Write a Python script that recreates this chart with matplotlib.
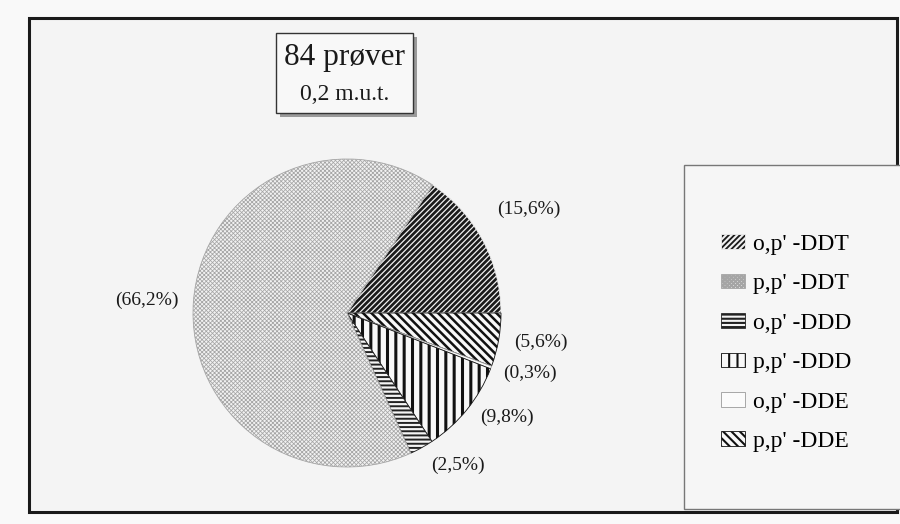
import matplotlib
matplotlib.use("Agg")
import matplotlib.pyplot as plt
from matplotlib.patches import Rectangle
import numpy as np

plt.rcParams['font.family'] = ['Liberation Serif', 'DejaVu Serif']
plt.rcParams['hatch.linewidth'] = 1.5

# Fractions of the DDT compounds in the samples (percent), clockwise from top right
compounds = ["o,p' -DDT", "p,p' -DDE", "o,p' -DDE", "p,p' -DDD", "o,p' -DDD", "p,p' -DDT"]
shares = [15.6, 5.6, 0.3, 9.8, 2.5, 66.2]
legend_order = ["o,p' -DDT", "p,p' -DDT", "o,p' -DDD", "p,p' -DDD", "o,p' -DDE", "p,p' -DDE"]
title_main = "84 prøver"
title_sub = "0,2 m.u.t."

# Fill style for each compound: face, hatch, hatch colour, hatch width
styles = {
    "o,p' -DDT": dict(face='#1a1a1a', hatch='//////', ec='#f0f0f0', hlw=0.9),
    "p,p' -DDE": dict(face='#f8f8f8', hatch='\\\\\\\\', ec='#111111', hlw=1.8),
    "o,p' -DDE": dict(face='#fbfbfb', hatch='', ec='#9a9a9a', hlw=1.0),
    "p,p' -DDD": dict(face='#f8f8f8', hatch='||', ec='#111111', hlw=2.2),
    "o,p' -DDD": dict(face='#f4f4f4', hatch='----', ec='#222222', hlw=1.4),
    "p,p' -DDT": dict(face='#f2f2f2', hatch='xxxxxxxx', ec='#a5a5a5', hlw=0.55),
}

W, H = 900, 524
fig = plt.figure(figsize=(W / 100, H / 100), dpi=100)
fig.patch.set_facecolor('#f9f9f9')

def px(x0, y0, x1, y1):
    """Figure-fraction rectangle from pixel corners (top-left origin)."""
    return [x0 / W, 1 - y1 / H, (x1 - x0) / W, (y1 - y0) / H]

# Outer chart frame
frame = Rectangle((29 / W, 1 - 512 / H), (897 - 29) / W, (512 - 18) / H,
                  transform=fig.transFigure, facecolor='#f4f4f4',
                  edgecolor='#1a1a1a', linewidth=2.2, zorder=0)
fig.add_artist(frame)

# Legend panel
fig.add_artist(Rectangle((684 / W, 1 - 509 / H), (905 - 684) / W, (509 - 165) / H,
                         transform=fig.transFigure, facecolor='#f6f6f6',
                         edgecolor='#777777', linewidth=1.0, zorder=1))

# Title box with drop shadow
bx0, by0, bx1, by1 = 276, 33, 413, 113
fig.add_artist(Rectangle(((bx0 + 4) / W, 1 - (by1 + 4) / H), (bx1 - bx0) / W, (by1 - by0) / H,
                         transform=fig.transFigure, facecolor='#9a9a9a',
                         edgecolor='none', zorder=2))
fig.add_artist(Rectangle((bx0 / W, 1 - by1 / H), (bx1 - bx0) / W, (by1 - by0) / H,
                         transform=fig.transFigure, facecolor='#f8f8f8',
                         edgecolor='#333333', linewidth=1.0, zorder=3))
fig.text((bx0 + bx1) / 2 / W, 1 - 58 / H, title_main, ha='center', va='center',
         fontsize=22.5, color='#1a1a1a', zorder=4)
fig.text((bx0 + bx1) / 2 / W, 1 - 95 / H, title_sub, ha='center', va='center',
         fontsize=17, color='#1a1a1a', zorder=4)

# Pie
cx, cy, r = 347, 313, 154
ax = fig.add_axes(px(cx - r, cy - r, cx + r, cy + r))
ax.set_zorder(2)
ax.patch.set_alpha(0)
wedges, _ = ax.pie(shares, startangle=shares[0] * 3.6, counterclock=False,
                   radius=1.0, wedgeprops=dict(linewidth=0.6))
for w, name in zip(wedges, compounds):
    s = styles[name]
    w.set_facecolor(s['face'])
    w.set_edgecolor(s['ec'])
    w.set_hatch(s['hatch'])
    if hasattr(w, 'set_hatch_linewidth'):
        w.set_hatch_linewidth(s['hlw'])
    w.set_label(name)
ax.set_xlim(-1, 1)
ax.set_ylim(-1, 1)
ax.set_aspect('equal')
ax.axis('off')

# Percentage labels (x, y in pie radii from the centre)
label_pos = [(1.18, 0.67), (1.26, -0.19), (1.19, -0.39), (1.04, -0.68), (0.72, -0.99), (-1.30, 0.08)]
for v, (lx, ly) in zip(shares, label_pos):
    ax.text(lx, ly, "(" + f"{v:.1f}".replace('.', ',') + "%)", ha='center', va='center',
            fontsize=14, color='#1a1a1a', clip_on=False)

# Legend
handles = {w.get_label(): w for w in wedges}
leg = fig.legend([handles[n] for n in legend_order], legend_order,
                 loc='upper left', bbox_to_anchor=(721 / W, 1 - 234 / H),
                 frameon=False, fontsize=17, handlelength=1.0, handleheight=0.58,
                 handletextpad=0.35, labelspacing=0.78, borderpad=0, borderaxespad=0)
leg.set_zorder(5)

fig.savefig('out.png', dpi=100, facecolor=fig.get_facecolor())
